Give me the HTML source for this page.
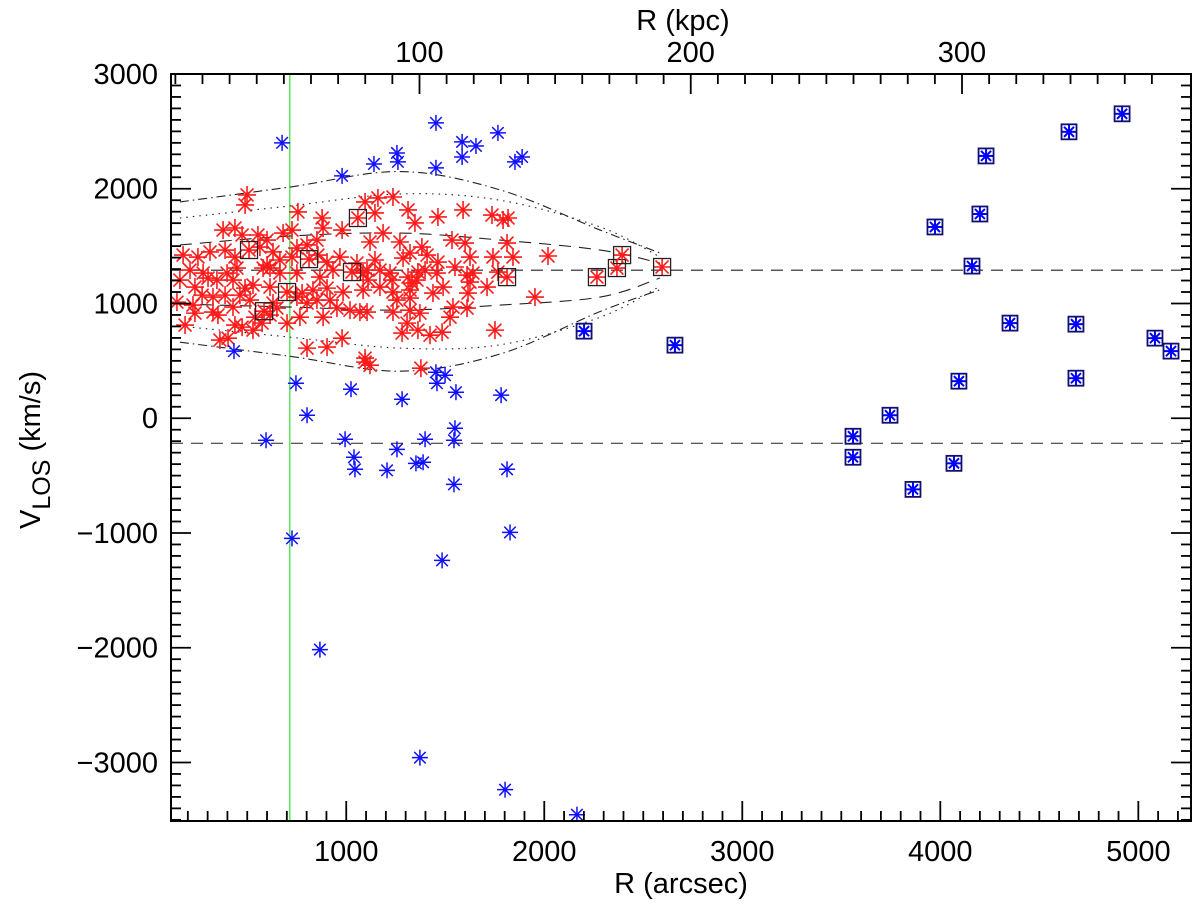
<!DOCTYPE html>
<html>
<head>
<meta charset="utf-8">
<style>
  html,body{margin:0;padding:0;background:#fff;}
  svg{display:block;}
  text{font-family:"Liberation Sans",sans-serif;fill:#000;}
</style>
</head>
<body>
<svg id="chart" xmlns="http://www.w3.org/2000/svg" width="1200" height="913" viewBox="0 0 1200 913">
  <rect x="0" y="0" width="1200" height="913" fill="#fff"/>
  <g id="grid-layer"></g>
</svg>
<script>
// ---- data ----
const xTickValues = [1000, 2000, 3000, 4000, 5000];
const yTickValues = [-3000, -2000, -1000, 0, 1000, 2000, 3000];
const kpcTickValues = [100, 200, 300];
const meanVelocity = 1290;
const secondVelocity = -218;
const greenLineR = 715;
const curveR = [160, 716, 1272, 1777, 2282, 2585];
const dashDotUpper = [1885, 2015, 2150, 1990, 1640, 1440];
const dashDotLower = [663, 540, 410, 560, 930, 1120];
const dottedUpper = [1745, 1850, 1955, 1900, 1667, 1405];
const dottedLower = [803, 707, 611, 640, 880, 1150];
const dashedUpper = [1510, 1588, 1614, 1553, 1466, 1352];
const dashedLower = [995, 969, 942, 986, 1056, 1222];
const redR = [1095,1160,1236,1145,1312,1347,1463,1590,1736,1792,1817,1120,1186,1271,1382,1322,1408,1287,1463,1534,1600,1625,1549,1741,1812,1842,2019,1145,1105,1170,1221,1312,1362,1357,1398,1458,1332,1231,1110,1085,1170,1236,1322,1438,1489,1610,1640,1625,1711,1766,1615,1953,1256,1322,1105,1236,1322,1372,1539,1610,1524,1307,1282,1362,1423,1484,1751,1095,1120,1377,
 499,489,756,878,883,979,378,438,474,554,600,681,726,802,852,176,251,312,388,438,564,630,665,600,726,751,857,903,968,1054,211,277,302,398,448,580,615,665,751,867,933,1085,160,236,347,428,489,529,615,777,832,903,984,272,327,388,463,514,630,751,802,852,918,145,226,327,352,428,650,766,883,953,1019,1069,236,186,438,474,529,575,615,701,539,362,403,802,903,979,1095];
const redV = [1885,1920,1928,1789,1815,1702,1754,1815,1771,1728,1745,1536,1614,1536,1492,1440,1422,1396,1361,1553,1527,1405,1318,1405,1527,1405,1414,1379,1291,1291,1265,1230,1274,1204,1291,1265,1178,1204,1204,1117,1143,1100,1117,1091,1143,1248,1265,1187,1143,1274,1091,1056,1030,1047,925,925,942,916,969,960,881,829,742,768,724,750,768,524,462,436,
 1946,1859,1798,1745,1658,1640,1640,1658,1597,1597,1553,1614,1640,1510,1553,1422,1405,1449,1466,1405,1492,1449,1379,1335,1405,1483,1422,1361,1405,1353,1291,1265,1222,1265,1309,1309,1309,1265,1265,1230,1291,1265,1204,1143,1204,1204,1134,1161,1143,1091,1117,1134,1100,1073,1056,1073,1073,1030,1004,1056,1004,1030,1030,1012,986,925,899,969,960,881,881,960,942,925,916,812,812,794,768,829,899,829,881,681,698,611,620,698,489];
const redSquareR = [509, 812, 1029, 701, 585, 1059, 1812, 2266, 2367, 2393, 2595];
const redSquareV = [1466, 1387, 1274, 1100, 933, 1745, 1230, 1230, 1309, 1422, 1318];
const blueR = [676,979,1140,1256,1261,1453,1453,1585,1585,1655,1766,1852,1888,433,746,802,1024,1282,1453,1499,1458,1554,1782,595,994,1039,1044,1256,1206,1398,1352,1388,1549,1544,1544,1812,1827,1484,1372,1802,2165,726,867];
const blueV = [2400,2112,2216,2312,2234,2574,2182,2408,2277,2373,2487,2234,2277,585,305,26,253,166,401,375,305,227,201,-192,-183,-340,-445,-271,-454,-183,-393,-384,-87,-192,-576,-445,-995,-1239,-2958,-3237,-3455,-1047,-2016];
const blueSquareR = [2201,2660,4918,4650,4231,4200,3973,4160,4352,4685,5084,5165,4094,4685,3746,3559,3559,4069,3862];
const blueSquareV = [759,637,2653,2496,2286,1780,1667,1326,829,820,698,585,323,349,26,-157,-340,-393,-620];

// ---- scales ----
const X0 = 171, X1 = 1191, Y0 = 74, Y1 = 821;
const xMin = 115, xMax = 5266, yMin = -3510, yMax = 3000;
const KPC_PER_ARCSEC = 0.073;
function sx(r){ return X0 + (r - xMin) / (xMax - xMin) * (X1 - X0); }
function sy(v){ return Y1 - (v - yMin) / (yMax - yMin) * (Y1 - Y0); }

const NS = 'http://www.w3.org/2000/svg';
const svg = document.getElementById('chart');
const layer = document.getElementById('grid-layer');
function mk(tag, attrs, parent){
  const e = document.createElementNS(NS, tag);
  for (const k in attrs) e.setAttribute(k, attrs[k]);
  (parent || layer).appendChild(e);
  return e;
}

// clip
const defs = mk('defs', {}, svg);
const cp = mk('clipPath', {id:'plotclip'}, defs);
mk('rect', {x:X0, y:Y0, width:X1-X0, height:Y1-Y0}, cp);
const plot = mk('g', {'clip-path':'url(#plotclip)'});



// reference lines
let e;
e = mk('line', {x1:X0, x2:X1, y1:sy(meanVelocity), y2:sy(meanVelocity), stroke:'#222', 'stroke-width':1.1, 'stroke-dasharray':'12 8'}, plot);


e = mk('line', {x1:X0, x2:X1, y1:sy(secondVelocity), y2:sy(secondVelocity), stroke:'#222', 'stroke-width':1.1, 'stroke-dasharray':'12 8'}, plot);


e = mk('line', {x1:sx(greenLineR), x2:sx(greenLineR), y1:Y0, y2:Y1, stroke:'#33dd33', 'stroke-width':1.2}, plot);



// envelope curves (Catmull-Rom smoothing)
function curvePath(rs, vs){
  const p = rs.map((r,i)=>[sx(r), sy(vs[i])]);
  let d = 'M' + p[0][0] + ',' + p[0][1];
  for (let i=0;i<p.length-1;i++){
    const p0 = p[Math.max(0,i-1)], p1 = p[i], p2 = p[i+1], p3 = p[Math.min(p.length-1,i+2)];
    const c1 = [p1[0]+(p2[0]-p0[0])/6, p1[1]+(p2[1]-p0[1])/6];
    const c2 = [p2[0]-(p3[0]-p1[0])/6, p2[1]-(p3[1]-p1[1])/6];
    d += ' C'+c1[0]+','+c1[1]+' '+c2[0]+','+c2[1]+' '+p2[0]+','+p2[1];
  }
  return d;
}
const curveDefs = [
  ['dash-dot-upper-envelope', dashDotUpper, '9 4 1.5 4'],
  ['dash-dot-lower-envelope', dashDotLower, '9 4 1.5 4'],
  ['dotted-upper-envelope', dottedUpper, '1.5 5'],
  ['dotted-lower-envelope', dottedLower, '1.5 5'],
  ['dashed-upper-envelope', dashedUpper, '12 8'],
  ['dashed-lower-envelope', dashedLower, '12 8']
];
curveDefs.forEach(c=>{
  const el = mk('path', {d:curvePath(curveR, c[1]), fill:'none', stroke:'#222', 'stroke-width':1.1, 'stroke-dasharray':c[2]}, plot);
  
  
});

// markers
function star(cx, cy, h, color, w, parent){
  const g = mk('g', {stroke:color, 'stroke-width':w, 'stroke-linecap':'butt'}, parent);
  const d = h*0.72;
  mk('line', {x1:cx-h, y1:cy, x2:cx+h, y2:cy}, g);
  mk('line', {x1:cx, y1:cy-h, x2:cx, y2:cy+h}, g);
  mk('line', {x1:cx-d, y1:cy-d, x2:cx+d, y2:cy+d}, g);
  mk('line', {x1:cx-d, y1:cy+d, x2:cx+d, y2:cy-d}, g);
  return g;
}
const redG = mk('g', {}, plot);


redR.forEach((r,i)=>{
  const g = star(sx(r), sy(redV[i]), 9, '#ff1a1a', 1.6, redG);
  
  
});
redSquareR.forEach((r,i)=>{
  const cx = sx(r), cy = sy(redSquareV[i]);
  const g = star(cx, cy, 9, '#ff1a1a', 1.6, redG);
  
  
  const s = mk('rect', {x:cx-8.5, y:cy-8.5, width:17, height:17, fill:'none', stroke:'#222', 'stroke-width':1.3}, redG);
  
  
});
const blueG = mk('g', {}, plot);


blueR.forEach((r,i)=>{
  const g = star(sx(r), sy(blueV[i]), 8, '#1010ff', 1.5, blueG);
  
  
});
blueSquareR.forEach((r,i)=>{
  const cx = sx(r), cy = sy(blueSquareV[i]);
  const g = star(cx, cy, 7, '#0000ff', 2, blueG);
  
  
  const s = mk('rect', {x:cx-7.5, y:cy-7.5, width:15, height:15, fill:'none', stroke:'#101070', 'stroke-width':1.8}, blueG);
  
  
});

// axes frame
const axes = mk('g', {stroke:'#000', 'stroke-width':2});


e = mk('rect', {x:X0, y:Y0, width:X1-X0, height:Y1-Y0, fill:'none'}, axes);



// bottom ticks (arcsec)
for (let r=200; r<=5200; r+=100){
  const major = r % 1000 === 0;
  const x = sx(r), L = major ? 20 : 10;
  mk('line', {x1:x, x2:x, y1:Y1, y2:Y1-L, 'stroke-width':1.8}, axes);
}
xTickValues.forEach(v=>{
  const t = mk('text', {x:sx(v), y:861, 'font-size':29, 'text-anchor':'middle'});
  t.textContent = String(v);
  
  
});
// left/right ticks
for (let v=-3500; v<=3000; v+=100){
  const major = v % 1000 === 0;
  const y = sy(v), L = major ? 20 : 10;
  mk('line', {x1:X0, x2:X0+L, y1:y, y2:y, 'stroke-width':1.8}, axes);
  mk('line', {x1:X1, x2:X1-L, y1:y, y2:y, 'stroke-width':1.8}, axes);
}
yTickValues.forEach(v=>{
  const t = mk('text', {x:158, y:sy(v)+10, 'font-size':29, 'text-anchor':'end'});
  t.textContent = v < 0 ? '\u2212' + Math.abs(v) : String(v);
  
  
});
// top ticks (kpc)
for (let k=10; k<=370; k+=10){
  const x = sx(k / KPC_PER_ARCSEC);
  if (x > X1) break;
  const L = k % 100 === 0 ? 20 : 10;
  mk('line', {x1:x, x2:x, y1:Y0, y2:Y0+L, 'stroke-width':1.8}, axes);
}
kpcTickValues.forEach(k=>{
  const t = mk('text', {x:sx(k / KPC_PER_ARCSEC), y:62, 'font-size':29, 'text-anchor':'middle'});
  t.textContent = String(k);
  
  
});

// titles
e = mk('text', {x:681, y:893, 'font-size':29, 'text-anchor':'middle'});
e.textContent = 'R (arcsec)';


e = mk('text', {x:683, y:30, 'font-size':29, 'text-anchor':'middle'});
e.textContent = 'R (kpc)';


const yt = mk('text', {x:0, y:0, 'font-size':29, 'text-anchor':'middle', transform:'translate(40,450) rotate(-90)'});


const t1 = mk('tspan', {}, yt); t1.textContent = 'V';
const t2 = mk('tspan', {dy:10, 'font-size':25}, yt); t2.textContent = 'LOS';
const t3 = mk('tspan', {dy:-10}, yt); t3.textContent = ' (km/s)';
</script>
</body>
</html>
